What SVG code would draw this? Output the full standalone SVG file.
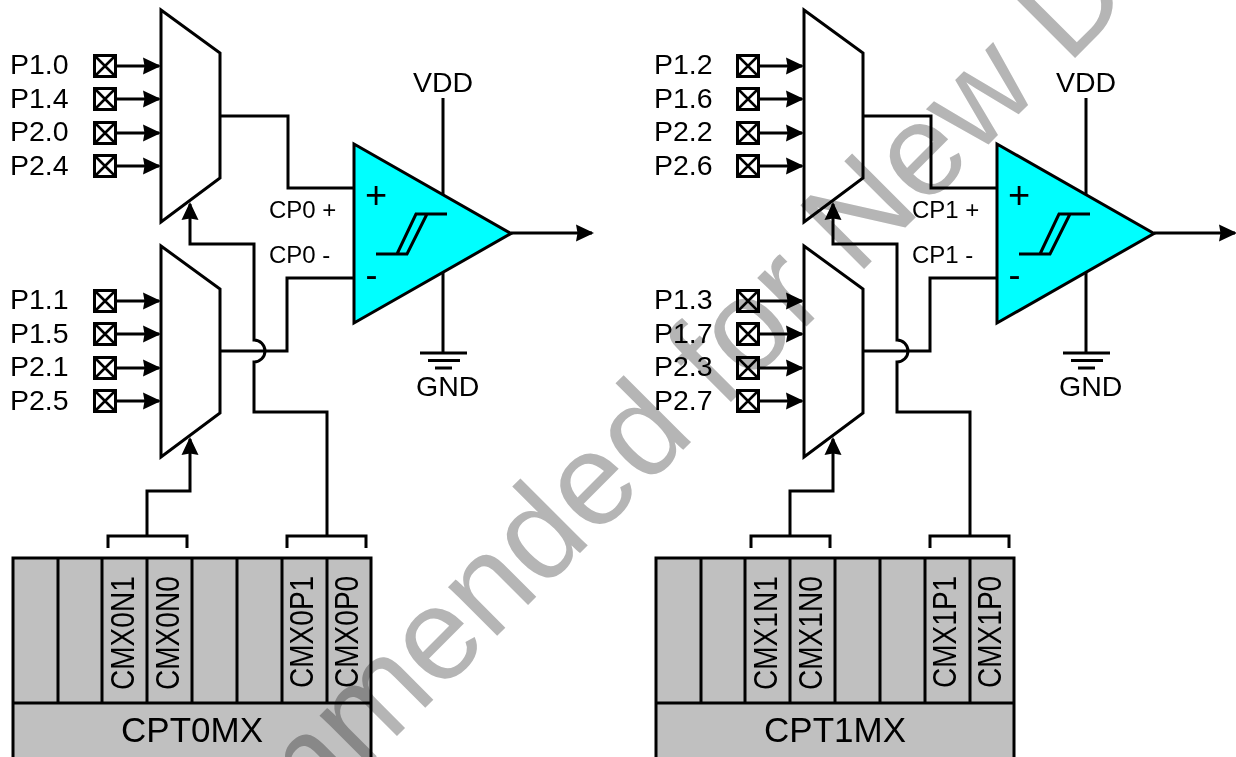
<svg xmlns="http://www.w3.org/2000/svg" width="1236" height="757" viewBox="0 0 1236 757">
<style>
text{font-family:"Liberation Sans",Arial,sans-serif;fill:#000}
.l{font-size:28.500px}
.s{font-size:24px}
.c{font-size:35px;text-anchor:middle}
.v{font-size:33px}
.p{font-size:38px;text-anchor:middle}
.m{font-size:36px;text-anchor:middle}
.line{fill:none;stroke:#000;stroke-width:3}
.arr{marker-end:url(#a)}
.mux{fill:#fff;stroke:#000;stroke-width:3}
.cmp{fill:#0ff;stroke:#000;stroke-width:3}
.reg{fill:#c0c0c0;stroke:#000;stroke-width:3}
.wm{font-size:131px;fill:#b5b5b5;mix-blend-mode:multiply}
</style>
<defs>
<marker id="a" markerUnits="userSpaceOnUse" markerWidth="20" markerHeight="18" refX="16" refY="9" orient="auto"><path d="M0 .5L18 9L0 17.500L1.500 9Z" fill="#000"/></marker>
<g id="pad"><rect x="-10.500" y="-10.500" width="21" height="21" fill="#fff" stroke="#000" stroke-width="3"/><path d="M-10-10L10 10M10-10L-10 10" stroke="#000" stroke-width="2.500"/></g>
</defs>
<rect width="1236" height="757" fill="#fff"/>

<g id="connectors">
<g id="connectors-0">
<path class="line" d="M220 116H288V188H354"/>
<path class="line" d="M220 351H287V278H354"/>
<path class="line arr" d="M327 536V412H254V362A11 11 0 0 0 254 340V244H190V204"/>
<path class="line arr" d="M147 536V491H190V439"/>
<path class="line" d="M108 548V536H187V548M287 548V536H366V548"/>
<path class="line" d="M443 98V200M443 270V353"/>
<path class="line arr" d="M511 233H592"/>
<path class="line arr" d="M117 66H159"/><path class="line arr" d="M117 99H159"/><path class="line arr" d="M117 133H159"/><path class="line arr" d="M117 166H159"/>
<path class="line arr" d="M117 301H159"/><path class="line arr" d="M117 334H159"/><path class="line arr" d="M117 368H159"/><path class="line arr" d="M117 401H159"/>
</g>
<g id="connectors-1" transform="translate(643 0)">
<path class="line" d="M220 116H288V188H354"/>
<path class="line" d="M220 351H287V278H354"/>
<path class="line arr" d="M327 536V412H254V362A11 11 0 0 0 254 340V244H190V204"/>
<path class="line arr" d="M147 536V491H190V439"/>
<path class="line" d="M108 548V536H187V548M287 548V536H366V548"/>
<path class="line" d="M443 98V200M443 270V353"/>
<path class="line arr" d="M511 233H592"/>
<path class="line arr" d="M117 66H159"/><path class="line arr" d="M117 99H159"/><path class="line arr" d="M117 133H159"/><path class="line arr" d="M117 166H159"/>
<path class="line arr" d="M117 301H159"/><path class="line arr" d="M117 334H159"/><path class="line arr" d="M117 368H159"/><path class="line arr" d="M117 401H159"/>
</g>
</g>

<g id="side-0">
<g id="mux-0-p"><path class="mux" d="M161 10L220 53V178L161 222Z"/></g>
<g id="mux-0-n"><path class="mux" d="M161 246L220 289V413L161 457Z"/></g>
<g id="pin-p10"><use href="#pad" x="105" y="66"/><text class="l" x="10" y="74">P1.0</text></g>
<g id="pin-p14"><use href="#pad" x="105" y="99"/><text class="l" x="10" y="108">P1.4</text></g>
<g id="pin-p20"><use href="#pad" x="105" y="133"/><text class="l" x="10" y="141">P2.0</text></g>
<g id="pin-p24"><use href="#pad" x="105" y="166"/><text class="l" x="10" y="175">P2.4</text></g>
<g id="pin-p11"><use href="#pad" x="105" y="301"/><text class="l" x="10" y="309">P1.1</text></g>
<g id="pin-p15"><use href="#pad" x="105" y="334"/><text class="l" x="10" y="343">P1.5</text></g>
<g id="pin-p21"><use href="#pad" x="105" y="368"/><text class="l" x="10" y="376">P2.1</text></g>
<g id="pin-p25"><use href="#pad" x="105" y="401"/><text class="l" x="10" y="410">P2.5</text></g>
<g id="comparator-0">
<path class="cmp" d="M354 144L511 233.500L354 323Z"/>
<text class="p" x="376" y="208">+</text>
<text class="m" x="371.500" y="287">-</text>
<path class="line" d="M376 254H407L427 214M397 254L416 214H447"/>
<text class="s" x="269" y="218">CP0 +</text>
<text class="s" x="269" y="263">CP0 -</text>
</g>
<g id="vdd-0"><text class="l" x="413" y="92">VDD</text></g>
<g id="gnd-0"><path class="line" d="M420 353H467M428 360.500H460M435 368H452"/><text class="l" x="416" y="396">GND</text></g>
<g id="register-0">
<rect class="reg" x="13" y="558" width="358" height="220"/>
<path class="line" d="M13 703H372M58 558V703M102 558V703M147 558V703M192 558V703M237 558V703M282 558V703M327 558V703"/>
<text class="v" transform="translate(134 690) rotate(-90) scale(.85 1)">CMX0N1</text>
<text class="v" transform="translate(179 690) rotate(-90) scale(.85 1)">CMX0N0</text>
<text class="v" transform="translate(313 688) rotate(-90) scale(.85 1)">CMX0P1</text>
<text class="v" transform="translate(358 688) rotate(-90) scale(.85 1)">CMX0P0</text>
<text class="c" x="192" y="742">CPT0MX</text>
</g>
</g>

<g id="side-1" transform="translate(643 0)">
<g id="mux-1-p"><path class="mux" d="M161 10L220 53V178L161 222Z"/></g>
<g id="mux-1-n"><path class="mux" d="M161 246L220 289V413L161 457Z"/></g>
<g id="pin-p12"><use href="#pad" x="105" y="66"/><text class="l" x="11" y="74">P1.2</text></g>
<g id="pin-p16"><use href="#pad" x="105" y="99"/><text class="l" x="11" y="108">P1.6</text></g>
<g id="pin-p22"><use href="#pad" x="105" y="133"/><text class="l" x="11" y="141">P2.2</text></g>
<g id="pin-p26"><use href="#pad" x="105" y="166"/><text class="l" x="11" y="175">P2.6</text></g>
<g id="pin-p13"><use href="#pad" x="105" y="301"/><text class="l" x="11" y="309">P1.3</text></g>
<g id="pin-p17"><use href="#pad" x="105" y="334"/><text class="l" x="11" y="343">P1.7</text></g>
<g id="pin-p23"><use href="#pad" x="105" y="368"/><text class="l" x="11" y="376">P2.3</text></g>
<g id="pin-p27"><use href="#pad" x="105" y="401"/><text class="l" x="11" y="410">P2.7</text></g>
<g id="comparator-1">
<path class="cmp" d="M354 144L511 233.500L354 323Z"/>
<text class="p" x="376" y="208">+</text>
<text class="m" x="371.500" y="287">-</text>
<path class="line" d="M376 254H407L427 214M397 254L416 214H447"/>
<text class="s" x="269" y="218">CP1 +</text>
<text class="s" x="269" y="263">CP1 -</text>
</g>
<g id="vdd-1"><text class="l" x="413" y="92">VDD</text></g>
<g id="gnd-1"><path class="line" d="M420 353H467M428 360.500H460M435 368H452"/><text class="l" x="416" y="396">GND</text></g>
<g id="register-1">
<rect class="reg" x="13" y="558" width="358" height="220"/>
<path class="line" d="M13 703H372M58 558V703M102 558V703M147 558V703M192 558V703M237 558V703M282 558V703M327 558V703"/>
<text class="v" transform="translate(134 690) rotate(-90) scale(.85 1)">CMX1N1</text>
<text class="v" transform="translate(179 690) rotate(-90) scale(.85 1)">CMX1N0</text>
<text class="v" transform="translate(313 688) rotate(-90) scale(.85 1)">CMX1P1</text>
<text class="v" transform="translate(358 688) rotate(-90) scale(.85 1)">CMX1P0</text>
<text class="c" x="192" y="742">CPT1MX</text>
</g>
</g>

<text id="watermark" class="wm" transform="translate(285 848) rotate(-45)">mmended for New D</text>
</svg>
